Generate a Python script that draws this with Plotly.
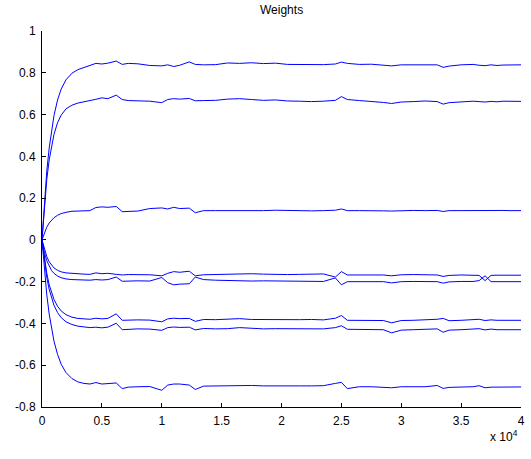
import plotly.graph_objects as go

# iteration index (x axis, raw units; ticks shown in units of 1e4)
x_iter = [0, 200, 400, 600, 800, 1000, 1300, 1600, 2000, 2500, 3000, 3500, 4000,
          4500, 5000, 5500, 6200, 6700, 7200, 8000, 9000,
          10000, 10500, 11000, 11500, 12300, 12800, 13500,
          14500, 15500, 16500, 17500, 18500, 19500, 20500, 21500, 22500, 23500,
          24500, 25000, 25500, 26500, 27500, 28500, 29200, 30000,
          31000, 32000, 33000, 33500, 34000, 35000,
          36000, 36500, 37000, 37500, 38000, 38500, 39000, 40000]

w1 = [0, 0.185, 0.33, 0.44, 0.528, 0.595, 0.67, 0.722, 0.766, 0.798, 0.815, 0.825, 0.832,
      0.845, 0.842, 0.846, 0.856, 0.84, 0.845, 0.843, 0.835,
      0.833, 0.838, 0.83, 0.836, 0.852, 0.84, 0.838,
      0.839, 0.847, 0.845, 0.848, 0.844, 0.846, 0.84, 0.839, 0.841, 0.839,
      0.842, 0.851, 0.845, 0.84, 0.841, 0.835, 0.833, 0.838,
      0.839, 0.84, 0.838, 0.826, 0.832, 0.838,
      0.84, 0.836, 0.834, 0.838, 0.835, 0.837, 0.838, 0.838]

w2 = [0, 0.166, 0.29, 0.383, 0.453, 0.505, 0.561, 0.597, 0.627, 0.645, 0.655, 0.66, 0.665,
      0.673, 0.68, 0.676, 0.693, 0.672, 0.667, 0.665, 0.664,
      0.657, 0.672, 0.676, 0.674, 0.677, 0.666, 0.667,
      0.668, 0.674, 0.676, 0.672, 0.668, 0.67, 0.665, 0.664, 0.662, 0.664,
      0.668, 0.686, 0.672, 0.667, 0.664, 0.658, 0.653, 0.66,
      0.662, 0.665, 0.662, 0.65, 0.657, 0.662,
      0.664, 0.662, 0.66, 0.663, 0.661, 0.664, 0.663, 0.663]

w3 = [0, 0.035, 0.061, 0.081, 0.095, 0.106, 0.118, 0.126, 0.132, 0.137, 0.138, 0.138, 0.14,
      0.155, 0.158, 0.156, 0.16, 0.135, 0.137, 0.138, 0.15,
      0.153, 0.148, 0.156, 0.15, 0.152, 0.13, 0.14,
      0.14, 0.14, 0.14, 0.138, 0.14, 0.142, 0.14, 0.141, 0.139, 0.14,
      0.142, 0.148, 0.14, 0.14, 0.141, 0.139, 0.138, 0.14,
      0.141, 0.14, 0.141, 0.136, 0.14, 0.14,
      0.141, 0.14, 0.142, 0.14, 0.14, 0.141, 0.14, 0.14]

w4 = [0, -0.045, -0.08, -0.105, -0.122, -0.134, -0.146, -0.153, -0.158, -0.161, -0.163, -0.164, -0.165,
      -0.158, -0.162, -0.16, -0.165, -0.168, -0.166, -0.167, -0.167,
      -0.172, -0.16, -0.152, -0.155, -0.15, -0.172, -0.167,
      -0.166, -0.163, -0.165, -0.162, -0.164, -0.166, -0.166, -0.165, -0.163, -0.163,
      -0.178, -0.152, -0.168, -0.167, -0.166, -0.168, -0.172, -0.167,
      -0.166, -0.166, -0.168, -0.175, -0.17, -0.168,
      -0.168, -0.17, -0.195, -0.17, -0.169, -0.17, -0.169, -0.169]

w5 = [0, -0.06, -0.1, -0.128, -0.147, -0.16, -0.173, -0.181, -0.187, -0.19, -0.192, -0.193, -0.193,
      -0.19, -0.192, -0.19, -0.178, -0.198, -0.197, -0.196, -0.197,
      -0.18, -0.205, -0.215, -0.212, -0.21, -0.178, -0.19,
      -0.193, -0.195, -0.195, -0.197, -0.196, -0.197, -0.197, -0.199, -0.197, -0.199,
      -0.182, -0.215, -0.2, -0.199, -0.198, -0.2, -0.206, -0.2,
      -0.199, -0.198, -0.2, -0.207, -0.201, -0.199,
      -0.199, -0.195, -0.172, -0.2, -0.201, -0.2, -0.2, -0.2]

w6 = [0, -0.09, -0.16, -0.215, -0.255, -0.285, -0.318, -0.34, -0.358, -0.37, -0.376, -0.379, -0.38,
      -0.375, -0.378, -0.376, -0.354, -0.385, -0.384, -0.383, -0.384,
      -0.392, -0.378, -0.375, -0.377, -0.376, -0.39, -0.381,
      -0.382, -0.38, -0.377, -0.381, -0.382, -0.381, -0.383, -0.382, -0.381, -0.383,
      -0.375, -0.362, -0.385, -0.385, -0.384, -0.386, -0.397, -0.386,
      -0.385, -0.384, -0.38, -0.376, -0.387, -0.385,
      -0.384, -0.38, -0.386, -0.383, -0.385, -0.384, -0.385, -0.385]

w7 = [0, -0.1, -0.18, -0.237, -0.28, -0.313, -0.348, -0.372, -0.392, -0.405, -0.413, -0.417, -0.42,
      -0.418, -0.421, -0.418, -0.399, -0.43, -0.428, -0.426, -0.427,
      -0.433, -0.42, -0.417, -0.419, -0.418, -0.431, -0.424,
      -0.426, -0.425, -0.42, -0.424, -0.426, -0.425, -0.426, -0.427, -0.425, -0.426,
      -0.42, -0.411, -0.428, -0.429, -0.428, -0.43, -0.445, -0.432,
      -0.43, -0.429, -0.426, -0.442, -0.432, -0.43,
      -0.428, -0.425, -0.431, -0.427, -0.43, -0.429, -0.43, -0.43]

w8 = [0, -0.147, -0.263, -0.355, -0.428, -0.485, -0.548, -0.595, -0.635, -0.664, -0.68, -0.687, -0.69,
      -0.683, -0.69, -0.689, -0.685, -0.712, -0.705, -0.703, -0.702,
      -0.72, -0.695, -0.69, -0.69, -0.695, -0.716, -0.7,
      -0.699, -0.7, -0.699, -0.697, -0.699, -0.698, -0.698, -0.699, -0.699, -0.698,
      -0.687, -0.682, -0.712, -0.703, -0.703, -0.704, -0.708, -0.703,
      -0.703, -0.703, -0.697, -0.711, -0.706, -0.704,
      -0.703, -0.698, -0.708, -0.705, -0.705, -0.704, -0.705, -0.704]

x_tickvals = [0, 5000, 10000, 15000, 20000, 25000, 30000, 35000, 40000]
x_ticktext = ["0", "0.5", "1", "1.5", "2", "2.5", "3", "3.5", "4"]
y_tickvals = [-0.8, -0.6, -0.4, -0.2, 0, 0.2, 0.4, 0.6, 0.8, 1]
y_ticktext = ["-0.8", "-0.6", "-0.4", "-0.2", "0", "0.2", "0.4", "0.6", "0.8", "1"]

FONT = "Liberation Sans, Arial, Helvetica, sans-serif"

fig = go.Figure()
for w in [w1, w2, w3, w4, w5, w6, w7, w8]:
    fig.add_trace(go.Scatter(x=x_iter, y=w, mode="lines",
                             line=dict(color="#0000ff", width=1),
                             showlegend=False, hoverinfo="skip"))

fig.update_layout(
    width=531, height=459,
    margin=dict(l=42, r=10, t=31, b=52, autoexpand=False),
    paper_bgcolor="white", plot_bgcolor="white",
    font=dict(family=FONT, size=12, color="black"),
    showlegend=False,
)
fig.update_xaxes(range=[0, 40000], tickvals=x_tickvals, ticktext=x_ticktext,
                 ticks="inside", ticklen=4, tickcolor="black", tickwidth=1,
                 showline=True, linecolor="black", linewidth=1, mirror=False,
                 showgrid=False, zeroline=False, ticklabelstandoff=3,
                 ticklabeloverflow="allow", automargin=False,
                 tickfont=dict(family=FONT, size=12, color="black"))
fig.update_yaxes(range=[-0.8, 1], tickvals=y_tickvals, ticktext=y_ticktext,
                 ticks="inside", ticklen=4, tickcolor="black", tickwidth=1,
                 showline=True, linecolor="black", linewidth=1, mirror=False,
                 showgrid=False, zeroline=False, ticklabelstandoff=3,
                 ticklabeloverflow="allow", automargin=False,
                 tickfont=dict(family=FONT, size=12, color="black"))

fig.add_annotation(text="Weights", xref="paper", yref="paper", x=0.5, y=1,
                   xanchor="center", yanchor="middle", yshift=21, showarrow=False,
                   font=dict(family=FONT, size=12, color="black"))
fig.add_annotation(text="x 10<sup>4</sup>", xref="paper", yref="paper", x=1, y=0,
                   xanchor="right", yanchor="middle", yshift=-29, xshift=-1,
                   showarrow=False,
                   font=dict(family=FONT, size=12, color="black"))

fig.write_html("out.html", config={"displayModeBar": False},
               post_script="document.body.style.margin='0px';")
